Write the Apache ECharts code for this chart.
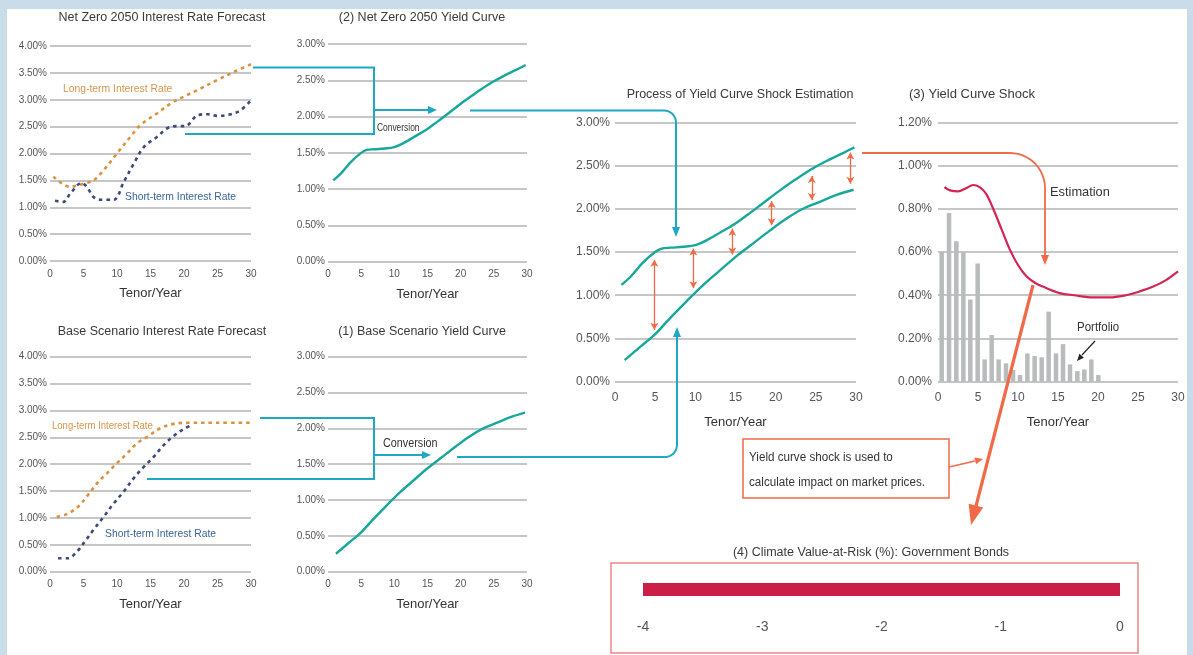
<!DOCTYPE html>
<html>
<head>
<meta charset="utf-8">
<script src="https://cdn.jsdelivr.net/npm/echarts@6/dist/echarts.min.js"></script>
<style>
html,body{margin:0;padding:0;background:#fff;}
#c{width:1193px;height:655px;}
</style>
</head>
<body>
<div id="c"></div>
<script>
// ---------- DATA ----------
var tenorTicks = [0, 5, 10, 15, 20, 25, 30];
// Net Zero 2050 interest-rate forecast (%)
var nzLong  = [[0.5,1.57],[3,1.38],[5,1.44],[6.5,1.50],[8,1.69],[10,2.0],[12,2.31],[13.5,2.53],[16,2.75],[18,2.93],[20,3.06],[22.5,3.21],[25,3.37],[27.5,3.52],[30,3.66]];
var nzShort = [[0.75,1.12],[2,1.10],[3,1.25],[4.7,1.45],[5.5,1.38],[6.5,1.19],[7.5,1.14],[9.5,1.14],[11,1.47],[12.5,1.81],[14,2.12],[16,2.31],[17.5,2.47],[19,2.51],[20.2,2.51],[22,2.71],[23.5,2.73],[25,2.70],[27,2.73],[28.5,2.81],[30,2.99]];
// Base scenario interest-rate forecast (%)
var baseLong  = [[1,1.02],[2.5,1.07],[4.2,1.21],[5.5,1.40],[7,1.64],[8.5,1.83],[10,2.02],[11.5,2.20],[13,2.39],[14.5,2.51],[16.5,2.67],[18.4,2.75],[20.4,2.77],[25,2.77],[30,2.77]];
var baseShort = [[1.2,0.25],[2.7,0.25],[4,0.37],[5.2,0.56],[6.5,0.78],[8,1.02],[9.5,1.27],[11,1.49],[12.5,1.74],[14,1.95],[15.5,2.14],[17,2.36],[18.4,2.52],[19.9,2.65],[21.2,2.73]];
// Yield curves (%)
var nzYield   = [[0.8,1.12],[2,1.22],[3.5,1.38],[5,1.50],[5.8,1.54],[7,1.55],[8.5,1.56],[10,1.58],[11.5,1.64],[13,1.72],[15,1.83],[16.5,1.93],[18.5,2.07],[20.5,2.21],[22.5,2.34],[24.5,2.46],[26.5,2.56],[28.5,2.65],[29.8,2.71]];
var baseYield = [[1.2,0.25],[3.1,0.40],[5,0.55],[6.8,0.73],[8.9,0.93],[11,1.12],[13.1,1.29],[15.1,1.45],[17.2,1.60],[19.3,1.75],[21.4,1.89],[23.4,2.00],[25.5,2.08],[27.6,2.16],[29.7,2.22]];
// Shock arrows between the curves: [tenor, upper, lower]
var shockArrows = [[4.9,1.41,0.60],[9.75,1.54,1.08],[14.6,1.77,1.47],[19.5,2.09,1.81],[24.5,2.38,2.10],[29.3,2.65,2.29]];
// Yield curve shock estimation (%)
var shockCurve = [[0.8,0.90],[1.5,0.885],[2.5,0.88],[3.5,0.895],[4.4,0.91],[5.2,0.90],[6,0.87],[6.9,0.80],[8,0.70],[9,0.61],[10,0.54],[11,0.49],[12,0.46],[13.1,0.44],[15.2,0.41],[17,0.40],[19.4,0.39],[21.5,0.39],[23.5,0.40],[25,0.415],[26.9,0.44],[28.5,0.47],[30,0.51]];
// Portfolio weights by tenor
var portfolioTenor  = [0.46,1.38,2.29,3.17,4.04,4.96,5.83,6.71,7.58,8.5,9.38,10.25,11.17,12.08,12.96,13.83,14.75,15.63,16.5,17.42,18.29,19.17,20.04];
var portfolioWeight = [0.60,0.78,0.65,0.60,0.38,0.547,0.103,0.216,0.103,0.085,0.054,0.031,0.131,0.119,0.113,0.324,0.131,0.174,0.080,0.049,0.057,0.103,0.031];
// Climate VaR
var varCategories = ['Government Bonds'];
var varValues = [-4.0];
var varTicks = [-4, -3, -2, -1, 0];

// ---------- STYLE ----------
var FONT = "'Liberation Sans', Arial, sans-serif";
var TEAL = '#17a79b', CONN = '#1fa8c4', ORANGE_DASH = '#d9923d', NAVY_DASH = '#3c4a7c';
var ARROW_RED = '#f06a47', SHOCK_RED = '#d42454', GRID = '#b3b3b3';

var grids = [
  {left:50,  top:46,    width:201, height:215},
  {left:328, top:44,    width:199, height:217.7},
  {left:50,  top:356.7, width:201, height:215},
  {left:328, top:356.7, width:199, height:215},
  {left:615, top:122.3, width:241, height:259.4},
  {left:938, top:122.3, width:240, height:259.4},
  {left:643, top:583,   width:477, height:13}
];
grids.forEach(function(g){ g.containLabel=false; g.outerBoundsMode='none'; });

function mkX(gi, fs, margin, gap){
  return {type:'value', gridIndex:gi, min:0, max:30, interval:5,
    axisLine:{show:false}, axisTick:{show:false}, splitLine:{show:false},
    axisLabel:{fontSize:fs, color:'#555', margin:margin, fontFamily:FONT,
      formatter:function(v){ return tenorTicks.indexOf(v)>=0 ? String(v) : ''; }},
    name:'Tenor/Year', nameLocation:'middle', nameGap:gap,
    nameTextStyle:{fontSize:13, color:'#333', fontFamily:FONT}};
}
function mkY(gi, max, interval, fs, margin){
  return {type:'value', gridIndex:gi, min:0, max:max, interval:interval,
    axisLine:{show:false}, axisTick:{show:false},
    splitLine:{show:true, lineStyle:{color:GRID, width:1.5}},
    axisLabel:{fontSize:fs, color:'#555', margin:margin, fontFamily:FONT,
      formatter:function(v){ return v.toFixed(2)+'%'; }}};
}
function dashed(data, color, xi){
  return {type:'line', xAxisIndex:xi, yAxisIndex:xi, data:data, smooth:0.35, symbol:'none', silent:true,
    lineStyle:{color:color, width:2.6, type:[3.5,4]}};
}
function solid(data, color, xi, w){
  return {type:'line', xAxisIndex:xi, yAxisIndex:xi, data:data, smooth:0.35, symbol:'none', silent:true,
    lineStyle:{color:color, width:w||2.4}};
}

var xAxes = [mkX(0,10,8,26), mkX(1,10,8,26), mkX(2,10,8,26), mkX(3,10,8,26), mkX(4,12,10,34), mkX(5,12,10,34),
  {type:'value', gridIndex:6, min:-4, max:0, interval:1, axisLine:{show:false}, axisTick:{show:false}, splitLine:{show:false},
   axisLabel:{fontSize:14, color:'#555', margin:24, fontFamily:FONT,
     formatter:function(v){ return varTicks.indexOf(v)>=0 ? String(v) : ''; }}}];
var yAxes = [mkY(0,4,0.5,10,3), mkY(1,3,0.5,10,3), mkY(2,4,0.5,10,3), mkY(3,3,0.5,10,3), mkY(4,3,0.5,12,5), mkY(5,1.2,0.2,12,6),
  {type:'category', gridIndex:6, data:varCategories, axisLine:{show:false}, axisTick:{show:false}, axisLabel:{show:false}}];

var markData = shockArrows.map(function(a){ return [{coord:[a[0],a[1]]},{coord:[a[0],a[2]]}]; });

var series = [
  dashed(nzLong, ORANGE_DASH, 0), dashed(nzShort, NAVY_DASH, 0),
  solid(nzYield, TEAL, 1),
  dashed(baseLong, ORANGE_DASH, 2), dashed(baseShort, NAVY_DASH, 2),
  solid(baseYield, TEAL, 3),
  (function(){ var s = solid(nzYield, TEAL, 4);
    s.markLine = {silent:true, symbol:['arrow','arrow'], symbolSize:[6,7], label:{show:false},
      lineStyle:{color:ARROW_RED, width:1.3, type:'solid'}, data:markData, animation:false};
    return s; })(),
  solid(baseYield, TEAL, 4),
  {type:'bar', xAxisIndex:5, yAxisIndex:5, silent:true, barWidth:4.5,
    data:portfolioTenor.map(function(t,i){ return [t, portfolioWeight[i]]; }),
    itemStyle:{color:'#b9bcbc'}},
  solid(shockCurve, SHOCK_RED, 5, 2.2),
  {type:'bar', xAxisIndex:6, yAxisIndex:6, data:varValues, barWidth:13, silent:true, itemStyle:{color:'#cc1f48'}}
];

function ttl(text, cx, top, fs){
  return {text:text, left:cx, top:top, textAlign:'center',
    textStyle:{fontSize:fs, fontWeight:'normal', color:'#3a3a3a', fontFamily:FONT}};
}
var titles = [
  ttl('Net Zero 2050 Interest Rate Forecast', 157, 6, 12.5),
  ttl('(2) Net Zero 2050 Yield Curve', 417, 6, 12.5),
  ttl('Base Scenario Interest Rate Forecast', 157, 320, 12.5),
  ttl('(1) Base Scenario Yield Curve', 417, 320, 12.5),
  ttl('Process of Yield Curve Shock Estimation', 735, 83, 12.5),
  ttl('(3) Yield Curve Shock', 967, 83, 13),
  ttl('(4) Climate Value-at-Risk (%): Government Bonds', 866, 541, 12.5)
];

// ---------- connectors (decoration) ----------
function arrowHead(tx, ty, dx, dy, len, wid, color){
  var l = Math.sqrt(dx*dx+dy*dy); dx/=l; dy/=l;
  var bx = tx - dx*len, by = ty - dy*len, px = -dy*wid/2, py = dx*wid/2;
  return {type:'polygon', z:50, shape:{points:[[tx,ty],[bx+px,by+py],[bx-px,by-py]]}, style:{fill:color}};
}
function pl(points, color, w){
  return {type:'polyline', z:49, shape:{points:points}, style:{stroke:color, lineWidth:w||2, fill:null}};
}
function corner(cx, cy, r, a0, a1, n){
  var pts=[]; for (var i=0;i<=n;i++){ var a=a0+(a1-a0)*i/n; pts.push([cx+r*Math.cos(a), cy+r*Math.sin(a)]); } return pts;
}
function txt(x, y, s, color, fs, align, sx){
  return {type:'text', z:60, x:x, y:y, scaleX:sx||1, scaleY:1,
    style:{text:s, fill:color, font:fs+'px '+FONT, align:align||'left', verticalAlign:'middle',
      textAlign:align||'left', textVerticalAlign:'middle'}};
}
var conn1 = [[470,110.5]].concat(corner(664,122.5,12,-Math.PI/2,0,8)).concat([[676,228]]);
var conn2 = [[457,457]].concat(corner(665,445,12,Math.PI/2,0,8)).concat([[677,336]]);
var conn3 = [[862,153]].concat(corner(1010,188,35,-Math.PI/2,0,12)).concat([[1045,255]]);

var graphics = [
  // teal brackets & arrows
  pl([[253,67.5],[374,67.5],[374,134],[185,134]], CONN, 2),
  pl([[374,110],[429,110]], CONN, 2), arrowHead(437,110,1,0,9,8,CONN),
  pl(conn1, CONN, 2), arrowHead(676,237,0,1,10,8,CONN),
  pl([[260,418],[374,418],[374,479],[147,479]], CONN, 2),
  pl([[374,455],[422,455]], CONN, 2), arrowHead(431,455,1,0,9,8,CONN),
  pl(conn2, CONN, 2), arrowHead(677,327,0,-1,10,8,CONN),
  // orange connectors
  pl(conn3, ARROW_RED, 1.8), arrowHead(1045,265,0,1,10,8,ARROW_RED),
  pl([[1033,285],[976,506]], ARROW_RED, 3.2), arrowHead(971,525,-61,239,20,15,ARROW_RED),
  {type:'rect', z:48, shape:{x:743,y:439,width:206,height:59}, style:{fill:'#fff', stroke:ARROW_RED, lineWidth:1.5}},
  txt(749,458,'Yield curve shock is used to','#333',12,'left',0.97),
  txt(749,483,'calculate impact on market prices.','#333',12,'left',0.97),
  pl([[949,467],[975,461]], ARROW_RED, 1.6), arrowHead(983,459,8,-2,8,7,ARROW_RED),
  // VaR box
  {type:'rect', z:48, shape:{x:611,y:563,width:527,height:90}, style:{fill:null, stroke:'#ea8585', lineWidth:1.5}},
  // portfolio pointer
  pl([[1095,341],[1082,355]], '#222', 1.2), arrowHead(1077,361,-18,20,7,6,'#222'),
  // labels
  txt(63,89,'Long-term Interest Rate','#d6964a',11.5,'left',0.9),
  txt(125,197,'Short-term Interest Rate','#3a6597',11.5,'left',0.9),
  txt(52,426,'Long-term Interest Rate','#d6964a',11.5,'left',0.83),
  txt(105,534,'Short-term Interest Rate','#3a6597',11.5,'left',0.9),
  txt(377,128,'Conversion','#333',10.5,'left',0.8),
  txt(383,444,'Conversion','#333',12,'left',0.9),
  txt(1050,192,'Estimation','#333',13.5,'left',0.95),
  txt(1077,328,'Portfolio','#333',12.5,'left',0.92),
  // frame strips
  {type:'rect', z:100, shape:{x:0,y:0,width:7,height:655}, style:{fill:'#cadcea'}},
  {type:'rect', z:100, shape:{x:0,y:0,width:1193,height:9}, style:{fill:'#cadcea'}},
  {type:'rect', z:100, shape:{x:1187,y:0,width:6,height:655}, style:{fill:'#cadcea'}}
];

var chart = echarts.init(document.getElementById('c'), null, {renderer:'canvas'});
chart.setOption({
  backgroundColor:'#ffffff',
  animation:false,
  title:titles,
  grid:grids,
  xAxis:xAxes,
  yAxis:yAxes,
  series:series,
  graphic:{elements:graphics}
});
</script>
</body>
</html>
